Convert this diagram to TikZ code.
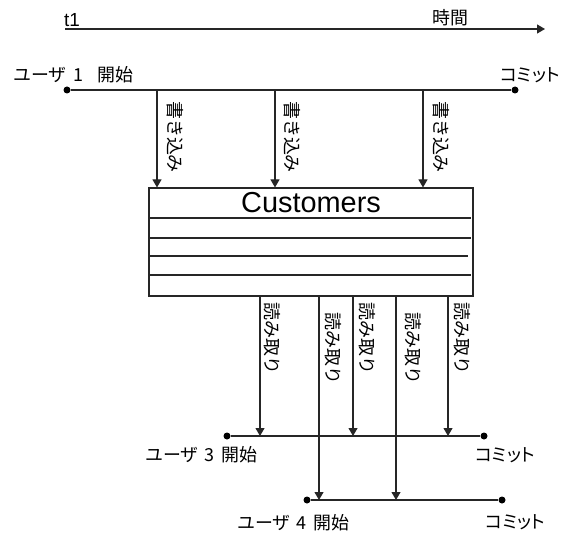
\documentclass[tikz,border=0pt]{standalone}
\usepackage{fontspec}
\setmainfont{Liberation Sans}
\newfontfamily\jp{Noto Sans CJK JP}
\newfontfamily\jpp[RawFeature=+palt]{Noto Sans CJK JP}
\usetikzlibrary{arrows.meta}
\begin{document}
\begin{tikzpicture}[x=1bp,y=-1bp,
  myline/.style={line width=1.1bp, draw=black!85},
  myarrow/.style={myline, -{Triangle[width=9bp,length=8bp]}},
  mydot/.style={circle, fill=black, inner sep=0pt, minimum size=7bp},
  jplabel/.style={font=\jp\fontsize{18}{18}\selectfont, inner sep=0pt},
  commitlabel/.style={font=\jpp\fontsize{18}{18}\selectfont, inner sep=0pt},
  vertlabel/.style={jplabel, rotate=-90, anchor=west},
]
\useasboundingbox (0,0) rectangle (563,533);
% time axis
\coordinate (ts) at (65,29);
\coordinate (te) at (545,29);
\draw[myarrow] (ts) -- (te);
\node[font=\fontsize{19}{19}\selectfont, inner sep=0pt, anchor=base west] (t1) at (64,27) {t1};
\node[jplabel] (jikan) at (450,17.5) {時間};
% user 1
\node[mydot] (u1s) at (67,90) {};
\node[mydot] (u1e) at (515,90) {};
\draw[myline] (u1s) -- (u1e);
\node[jplabel, anchor=west] (u1l) at (13,75) {ユーザ\hspace{7bp}1\hspace{14bp}開始};
\node[commitlabel] (u1c) at (530,75.5) {コミット};
% table
\node[draw, myline, minimum width=324bp, minimum height=108bp, inner sep=0pt] (box) at (311,242) {};
\node[font=\fontsize{29}{29}\selectfont, inner sep=0pt, anchor=base] (cust) at (311,213) {Customers};
\draw[myline] (149,218) -- (471,218);
\draw[myline] (149,238) -- (471,238);
\draw[myline] (149,256) -- (468,256);
\draw[myline] (149,275) -- (471,275);
% writes
\coordinate (w1) at (157,90);
\coordinate (w2) at (275,90);
\coordinate (w3) at (423,90);
\draw[myarrow] (w1) -- (w1 |- box.north);
\draw[myarrow] (w2) -- (w2 |- box.north);
\draw[myarrow] (w3) -- (w3 |- box.north);
\node[vertlabel] (wl1) at (175,101) {書き込み};
\node[vertlabel] (wl2) at (292,101) {書き込み};
\node[vertlabel] (wl3) at (441,101) {書き込み};
% user 3 and 4
\node[mydot] (u3s) at (227,436) {};
\node[mydot] (u3e) at (484,436) {};
\draw[myline] (u3s) -- (u3e);
\node[jplabel, anchor=west] (u3l) at (145,455) {ユーザ\hspace{6bp}3\hspace{7bp}開始};
\node[commitlabel] (u3c) at (505,455) {コミット};
\node[mydot] (u4s) at (307,500) {};
\node[mydot] (u4e) at (502,500) {};
\draw[myline] (u4s) -- (u4e);
\node[jplabel, anchor=west] (u4l) at (237,523) {ユーザ\hspace{6bp}4\hspace{7bp}開始};
\node[commitlabel] (u4c) at (515.5,522.5) {コミット};
% reads
\coordinate (r1) at (260,296);
\coordinate (r2) at (319,296);
\coordinate (r3) at (353,296);
\coordinate (r4) at (396,296);
\coordinate (r5) at (448,296);
\draw[myarrow] (r1) -- (r1 |- u3s);
\draw[myarrow] (r2) -- (r2 |- u4s);
\draw[myarrow] (r3) -- (r3 |- u3s);
\draw[myarrow] (r4) -- (r4 |- u4s);
\draw[myarrow] (r5) -- (r5 |- u3s);
\node[vertlabel] (rl1) at (272,302) {読み取り};
\node[vertlabel] (rl2) at (333,312) {読み取り};
\node[vertlabel] (rl3) at (367,302) {読み取り};
\node[vertlabel] (rl4) at (413,312) {読み取り};
\node[vertlabel] (rl5) at (462,302) {読み取り};
\end{tikzpicture}
\end{document}
